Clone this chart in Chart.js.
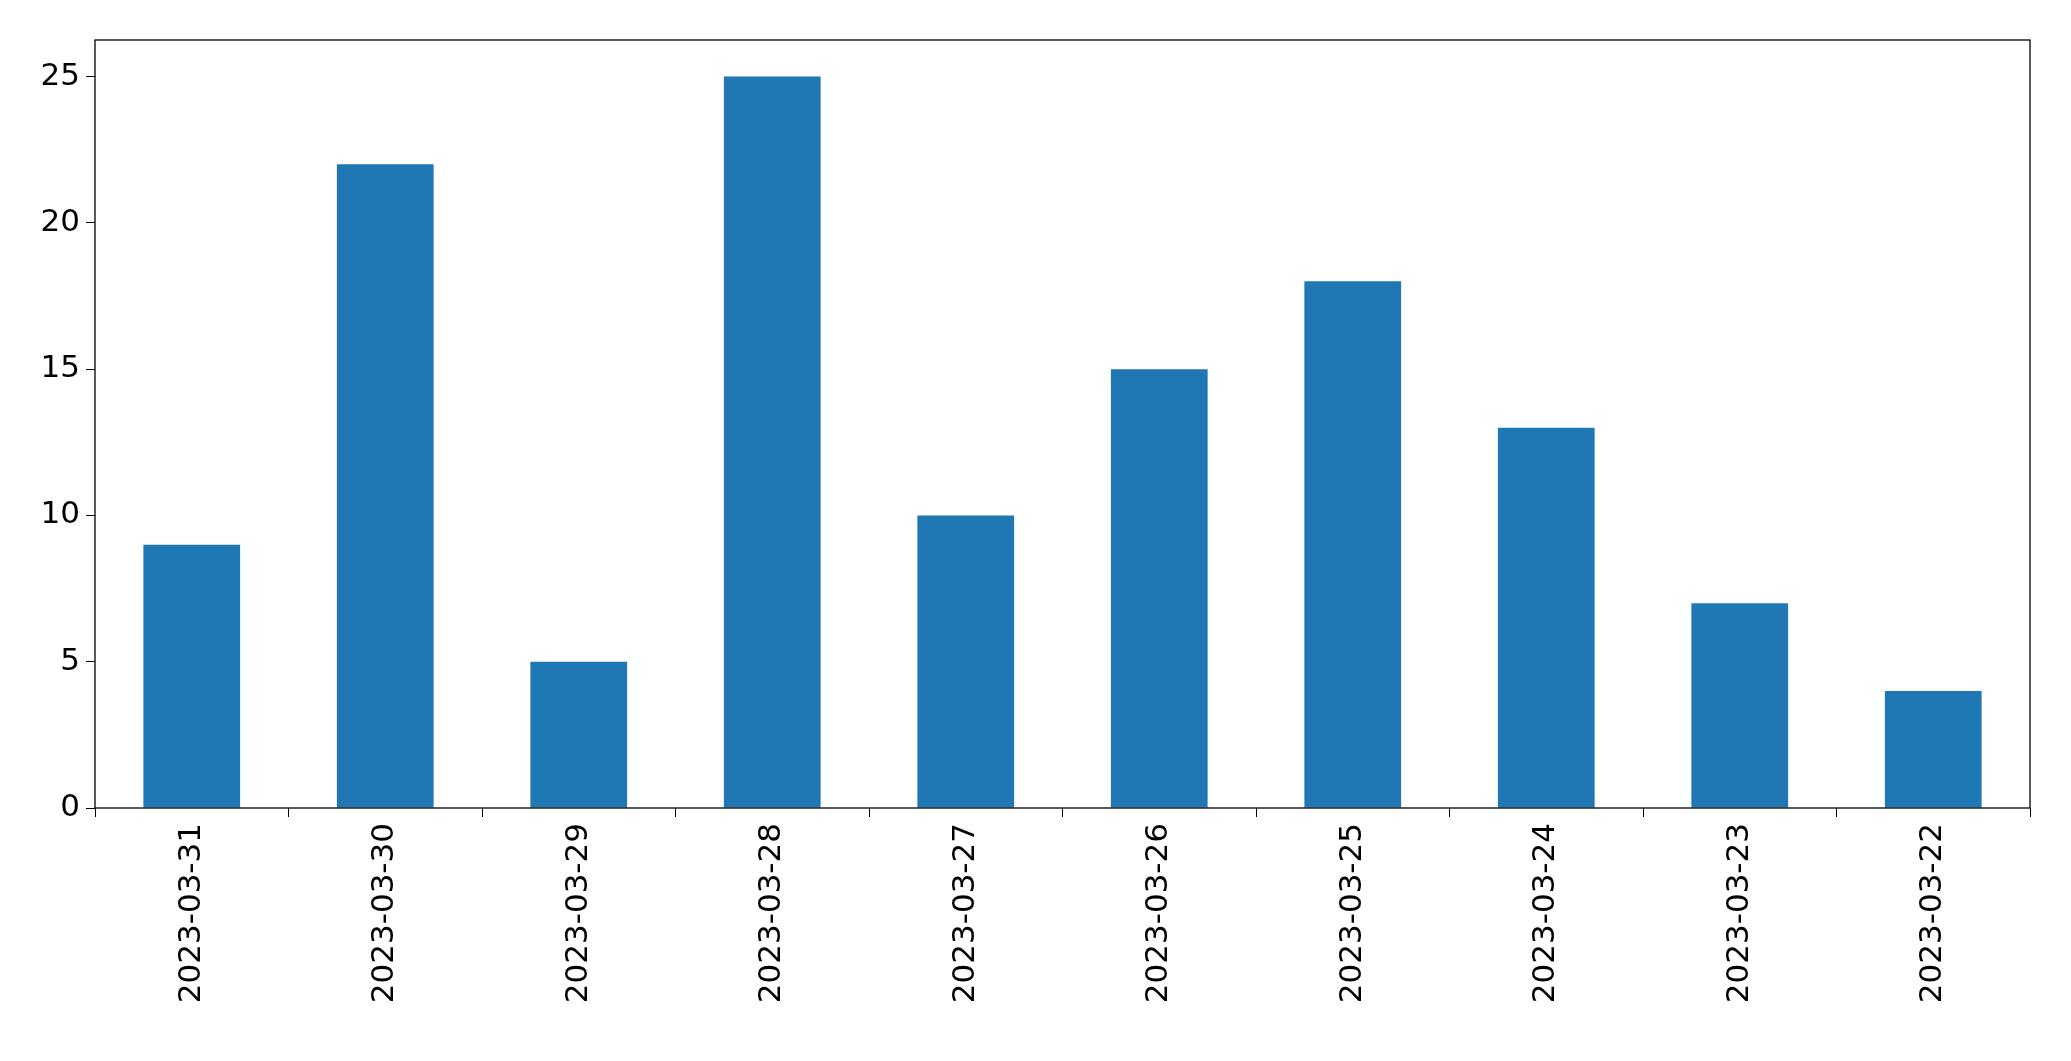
<!DOCTYPE html>
<html>
<head>
<meta charset="utf-8">
<script src="https://cdn.jsdelivr.net/npm/chart.js@4"></script>
<style>
  html, body { margin: 0; padding: 0; background: #ffffff; }
  #wrap { width: 2071px; height: 1061px; }
</style>
</head>
<body>
<div id="wrap"><canvas id="chart" width="2071" height="1061"></canvas></div>
<script>
const dates = ["2023-03-31", "2023-03-30", "2023-03-29", "2023-03-28", "2023-03-27",
               "2023-03-26", "2023-03-25", "2023-03-24", "2023-03-23", "2023-03-22"];
const counts = [9, 22, 5, 25, 10, 15, 18, 13, 7, 4];
const yTicks = [0, 5, 10, 15, 20, 25];

// draw the box around the plot area (matplotlib style)
const frame = {
    id: "frame",
    afterDraw(chart){
        const a = chart.chartArea;
        const ctx = chart.ctx;
        ctx.save();
        ctx.strokeStyle = "#000";
        ctx.lineWidth = 1.3;
        ctx.strokeRect(a.left, a.top, a.right - a.left, a.bottom - a.top);
        ctx.restore();
    }
};

new Chart(document.getElementById("chart"), {
    type: "bar",
    data: {
        labels: dates,
        datasets: [{
            data: counts,
            backgroundColor: "#1f77b4",
            categoryPercentage: 1,
            barPercentage: 0.5
        }]
    },
    options: {
        responsive: false,
        animation: false,
        layout: {padding: {top: 40, right: 41, left: 0, bottom: 0}},
        plugins: {legend: {display: false}, tooltip: {enabled: false}},
        scales: {
            x: {
                grid: {display: true, drawOnChartArea: false, tickLength: 9, color: "#000"},
                border: {display: false},
                ticks: {
                    color: "#000", minRotation: 90, maxRotation: 90, padding: 6,
                    font: {family: "DejaVu Sans", size: 31}
                },
                afterFit(s){ s.height = 253; }
            },
            y: {
                min: 0, max: 26.25,
                afterBuildTicks(s){ s.ticks = yTicks.map(v => ({value: v})); },
                grid: {display: true, drawOnChartArea: false, tickLength: 9, color: "#000"},
                border: {display: false},
                ticks: {color: "#000", padding: 6, font: {family: "DejaVu Sans", size: 31}},
                afterFit(s){ s.width = 95; }
            }
        }
    },
    plugins: [frame]
});
</script>
</body>
</html>
